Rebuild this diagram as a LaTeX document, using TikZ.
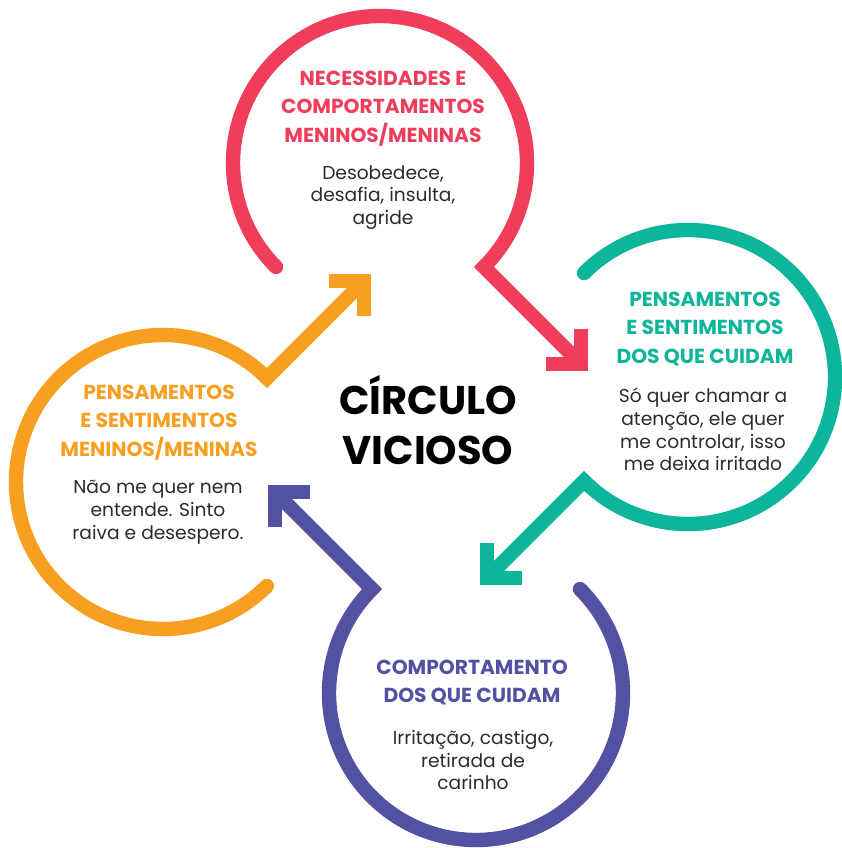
\documentclass[tikz,border=0pt]{standalone}
\usepackage{fontspec}
\setmainfont{Poppins}
\usetikzlibrary{calc}
\definecolor{cred}{HTML}{EF3D5B}
\definecolor{cteal}{HTML}{0DB69A}
\definecolor{cpurple}{HTML}{5351A2}
\definecolor{corange}{HTML}{F89F21}
\definecolor{ctext}{HTML}{2B2B2B}
\begin{document}
\begin{tikzpicture}[x=0.75pt,y=0.75pt,
  ring/.style={line width=10.8pt, line cap=round, line join=miter},
  chevron/.style={line width=10.8pt, line cap=butt, line join=miter},
  head/.style={font=\bfseries\fontsize{15.2}{21.4}\selectfont, align=center},
  body/.style={font=\fontsize{14}{16.9}\selectfont, text=ctext, align=center},
]
\useasboundingbox (0,0) rectangle (841,-848);
\coordinate (cR) at (380,-163);
\coordinate (cT) at (688,-377);
\coordinate (cP) at (476,-693);
\coordinate (cO) at (163,-482);

% red
\draw[ring, cred] ($(cR)+(225:147)$) arc[start angle=225, end angle=-45, radius=147] -- ++(-45:137) coordinate (tR);
\draw[chevron, cred] ($(tR)+(-35,0)$) -- (tR) -- ($(tR)+(0,35)$);
% teal
\draw[ring, cteal] ($(cT)+(135:147)$) arc[start angle=135, end angle=-135, radius=147] -- ++(225:137) coordinate (tT);
\draw[chevron, cteal] ($(tT)+(35,0)$) -- (tT) -- ($(tT)+(0,35)$);
% purple
\draw[ring, cpurple] ($(cP)+(45:147)$) arc[start angle=45, end angle=-225, radius=147] -- ++(135:137) coordinate (tP);
\draw[chevron, cpurple] ($(tP)+(35,0)$) -- (tP) -- ($(tP)+(0,-35)$);
% orange
\draw[ring, corange] ($(cO)+(-45:147)$) arc[start angle=-45, end angle=-315, radius=147] -- ++(45:137) coordinate (tO);
\draw[chevron, corange] ($(tO)+(-35,0)$) -- (tO) -- ($(tO)+(0,-35)$);

\node[head, text=cred] (hR) at (383,-108.5) {NECESSIDADES E\\COMPORTAMENTOS\\MENINOS/MENINAS};
\node[body] (bR) at (383,-197.5) {Desobedece,\\desafia, insulta,\\agride};

\node[head, text=cteal] (hT) at (705,-328.7) {PENSAMENTOS\\E SENTIMENTOS\\DOS QUE CUIDAM};
\node[body] (bT) at (703,-429.5) {Só quer chamar a\\atenção, ele quer\\me controlar, isso\\me deixa irritado};

\node[head, text=corange] (hO) at (159,-422.3) {PENSAMENTOS\\E SENTIMENTOS\\MENINOS/MENINAS};
\node[body] (bO) at (158,-512.3) {Não me quer nem\\entende. Sinto\\raiva e desespero.};

\node[head, text=cpurple] (hP) at (472,-682.5) {COMPORTAMENTO\\DOS QUE CUIDAM};
\node[body] (bP) at (473,-760) {Irritação, castigo,\\retirada de\\carinho};

\node[font=\bfseries\fontsize{30}{37.5}\selectfont, align=center] (title) at (428,-420) {CÍRCULO\\VICIOSO};
\end{tikzpicture}
\end{document}
